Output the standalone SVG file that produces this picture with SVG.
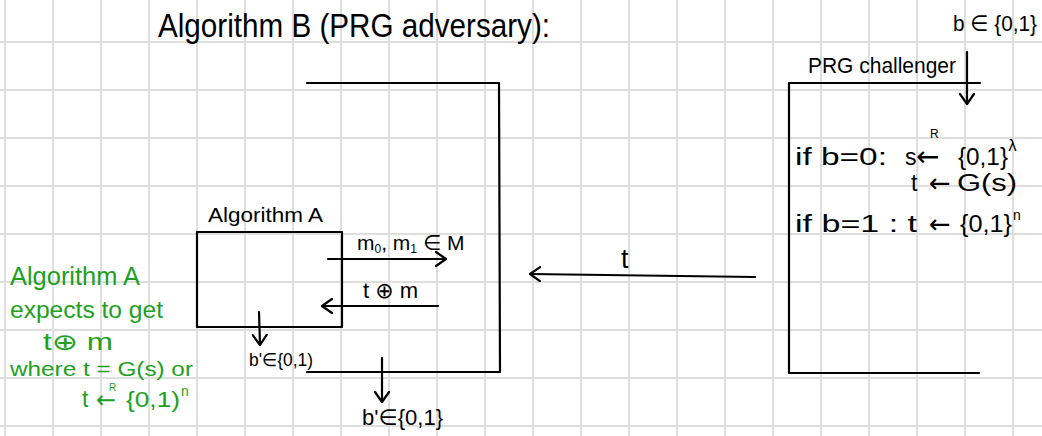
<svg xmlns="http://www.w3.org/2000/svg" width="1042" height="436" viewBox="0 0 1042 436">
<style>
.grid{stroke:#dedede;stroke-width:2;fill:none}
.ln{stroke:#000;stroke-width:2.2;fill:none;stroke-linecap:round;stroke-linejoin:round}
.t{font-family:"Liberation Sans","DejaVu Sans",sans-serif;fill:#000}
.g{font-family:"Liberation Sans","DejaVu Sans",sans-serif;fill:#1ea11e}
.sym{font-family:"DejaVu Sans","Liberation Sans",sans-serif}
</style>
<defs>
<marker id="ah" viewBox="0 0 12 16" refX="11" refY="8" markerWidth="12" markerHeight="16" markerUnits="userSpaceOnUse" orient="auto">
<path d="M1,1 L11,8 L1,15" fill="none" stroke="#000" stroke-width="2.2" stroke-linecap="round" stroke-linejoin="round"/>
</marker>
</defs>
<rect width="1042" height="436" fill="#fff"/>
<path class="grid" d="M5,0V436M53,0V436M101,0V436M149,0V436M197,0V436M245,0V436M293,0V436M341,0V436M389,0V436M437,0V436M485,0V436M533,0V436M581,0V436M629,0V436M677,0V436M725,0V436M773,0V436M821,0V436M869,0V436M917,0V436M965,0V436M1013,0V436M0,42H1042M0,90H1042M0,138H1042M0,186H1042M0,234H1042M0,282H1042M0,330H1042M0,378H1042M0,426H1042"/>

<text class="t" x="158" y="37" font-size="33" textLength="392" lengthAdjust="spacingAndGlyphs">Algorithm B (PRG adversary):</text>

<g id="algB">
<path class="ln" d="M307,83 L499,83 L500,372 L307,372"/>
</g>

<g id="algA">
<rect class="ln" x="197" y="232" width="145" height="95"/>
<text class="t" x="208" y="222" font-size="21" textLength="115" lengthAdjust="spacingAndGlyphs">Algorithm A</text>
</g>

<g id="challenger">
<path class="ln" d="M980,83 L789,83 L789,373 L979,373"/>
<text class="t" x="808" y="73" font-size="22" textLength="148" lengthAdjust="spacingAndGlyphs">PRG challenger</text>
<text class="t" x="953" y="31" font-size="22" textLength="84" lengthAdjust="spacingAndGlyphs">b ∈ {0,1}</text>
<text class="t" x="795" y="165" font-size="23" textLength="92" lengthAdjust="spacingAndGlyphs">if b=0:</text>
<text class="t" x="905" y="165" font-size="23">s</text>
<text class="t sym" x="916" y="166" font-size="28">←</text>
<text class="t" x="930" y="138" font-size="12">R</text>
<text class="t" x="958" y="165" font-size="23" textLength="50" lengthAdjust="spacingAndGlyphs">{0,1}</text>
<text class="t sym" x="1008" y="151" font-size="15">λ</text>
<text class="t" x="911" y="191" font-size="23">t</text>
<text class="t sym" x="929" y="192" font-size="26">←</text>
<text class="t" x="957" y="191" font-size="23" textLength="60" lengthAdjust="spacingAndGlyphs">G(s)</text>
<text class="t" x="795" y="232" font-size="23" textLength="122" lengthAdjust="spacingAndGlyphs">if b=1 : t</text>
<text class="t sym" x="929" y="233" font-size="26">←</text>
<text class="t" x="960" y="232" font-size="23" textLength="52" lengthAdjust="spacingAndGlyphs">{0,1}</text>
<text class="t" x="1013" y="220" font-size="14">n</text>
</g>

<g id="connectors">
<line class="ln" x1="328" y1="259" x2="446" y2="259" marker-end="url(#ah)"/>
<line class="ln" x1="438" y1="306" x2="322" y2="306" marker-end="url(#ah)"/>
<line class="ln" x1="259" y1="312" x2="260" y2="345" marker-end="url(#ah)"/>
<line class="ln" x1="382" y1="358" x2="382" y2="402" marker-end="url(#ah)"/>
<line class="ln" x1="755" y1="277" x2="530" y2="274" marker-end="url(#ah)"/>
<line class="ln" x1="967" y1="52" x2="967" y2="104" marker-end="url(#ah)"/>
<text class="t" x="357" y="250" font-size="21">m<tspan font-size="12" dy="3">0</tspan><tspan dy="-3">, m</tspan><tspan font-size="12" dy="3">1</tspan><tspan dy="-3"> ∈ M</tspan></text>
<text class="t" x="363" y="298" font-size="22">t ⊕ m</text>
<text class="t" x="249" y="366" font-size="18" textLength="64" lengthAdjust="spacingAndGlyphs">b'∈{0,1)</text>
<text class="t" x="362" y="425" font-size="22" textLength="81" lengthAdjust="spacingAndGlyphs">b'∈{0,1}</text>
<text class="t" x="621" y="268" font-size="27">t</text>
</g>

<g id="note">
<text class="g" x="10" y="285" font-size="26" textLength="130" lengthAdjust="spacingAndGlyphs">Algorithm A</text>
<text class="g" x="10" y="318" font-size="23" textLength="153" lengthAdjust="spacingAndGlyphs">expects to get</text>
<text class="g" x="43" y="350" font-size="23" textLength="70" lengthAdjust="spacingAndGlyphs">t⊕ m</text>
<text class="g" x="10" y="376" font-size="21" textLength="183" lengthAdjust="spacingAndGlyphs">where t = G(s) or</text>
<text class="g" x="82" y="407" font-size="23">t</text>
<text class="g sym" x="96" y="408" font-size="24">←</text>
<text class="g" x="109" y="391" font-size="10">R</text>
<text class="g" x="126" y="407" font-size="22" textLength="54" lengthAdjust="spacingAndGlyphs">{0,1)</text>
<text class="g" x="181" y="396" font-size="14">n</text>
</g>
</svg>
